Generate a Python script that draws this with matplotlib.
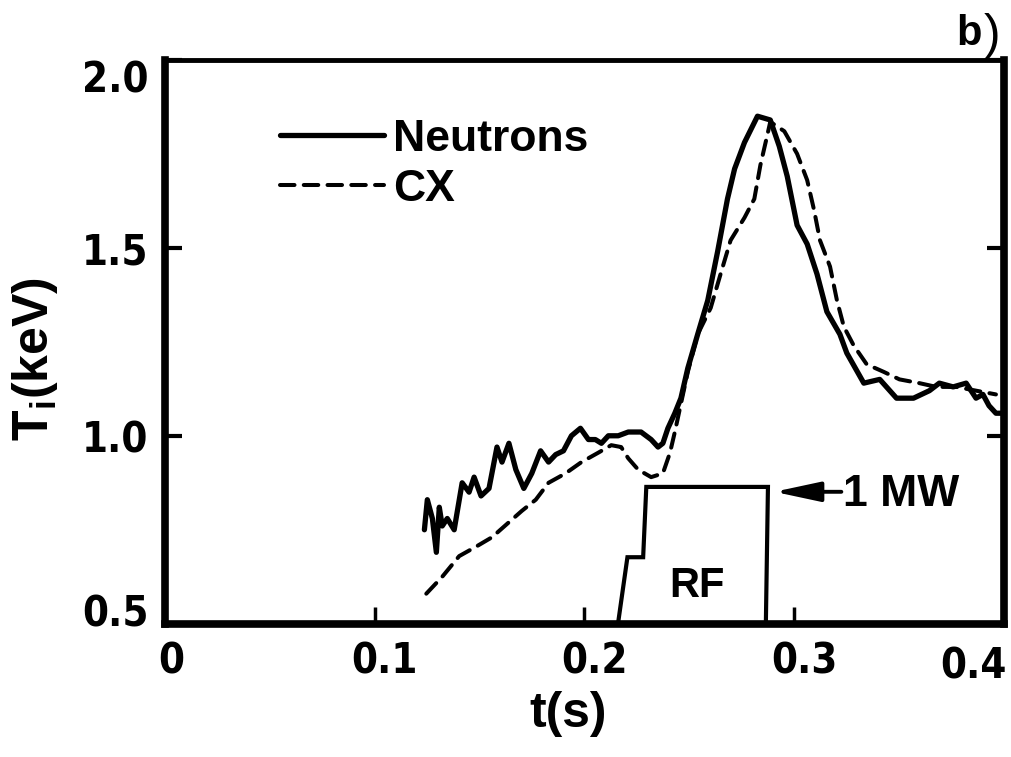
import matplotlib.pyplot as plt
from matplotlib.transforms import ScaledTranslation

plt.rcParams['font.family'] = ['Liberation Sans', 'DejaVu Sans']
plt.rcParams['mathtext.fontset'] = 'custom'
plt.rcParams['mathtext.bf'] = 'Liberation Sans:bold'
plt.rcParams['mathtext.rm'] = 'Liberation Sans'

# ion temperature from neutrons (solid)
neut_t = [0.1237, 0.1251, 0.1275, 0.1294, 0.1308, 0.1322, 0.1346, 0.1379, 0.1417,
          0.1450, 0.1474, 0.1507, 0.1545, 0.1583, 0.1607, 0.1640, 0.1673, 0.1711,
          0.1749, 0.1791, 0.1829, 0.1863, 0.1900, 0.1938, 0.1981, 0.2019, 0.2052,
          0.2081, 0.2114, 0.2161, 0.2209, 0.2270, 0.2318, 0.2351, 0.2374, 0.2398,
          0.2431, 0.2460, 0.2493, 0.2540, 0.2588, 0.2635, 0.2682, 0.2716, 0.2763,
          0.2825, 0.2886, 0.2929, 0.2967, 0.3014, 0.3062, 0.3109, 0.3156, 0.3218,
          0.3251, 0.3332, 0.3408, 0.3488, 0.3569, 0.3645, 0.3692, 0.3758, 0.3820,
          0.3867, 0.3900, 0.3929, 0.3962, 0.4000]
neut_ti = [0.75, 0.83, 0.78, 0.69, 0.81, 0.76, 0.78, 0.75, 0.875,
           0.85, 0.89, 0.84, 0.86, 0.97, 0.93, 0.98, 0.91, 0.86,
           0.90, 0.96, 0.93, 0.95, 0.96, 1.00, 1.02, 0.99, 0.99,
           0.98, 1.00, 1.00, 1.01, 1.01, 0.99, 0.97, 0.98, 1.02,
           1.06, 1.10, 1.18, 1.27, 1.36, 1.49, 1.63, 1.71, 1.78,
           1.85, 1.84, 1.77, 1.69, 1.56, 1.51, 1.43, 1.33, 1.27,
           1.22, 1.14, 1.15, 1.10, 1.10, 1.12, 1.14, 1.13, 1.14,
           1.10, 1.11, 1.08, 1.06, 1.06]

# ion temperature from charge exchange (dashed)
cx_t = [0.1246, 0.1322, 0.1403, 0.1483, 0.1559, 0.1640, 0.1701, 0.1768, 0.1829,
        0.1910, 0.1986, 0.2066, 0.2128, 0.2175, 0.2209, 0.2256, 0.2318, 0.2374,
        0.2408, 0.2431, 0.2493, 0.2540, 0.2602, 0.2649, 0.2697, 0.2763, 0.2810,
        0.2839, 0.2872, 0.2886, 0.2953, 0.3014, 0.3062, 0.3095, 0.3123, 0.3171,
        0.3204, 0.3237, 0.3284, 0.3346, 0.3427, 0.3502, 0.3597, 0.3678, 0.3773,
        0.3867, 0.3962]
cx_ti = [0.58, 0.625, 0.68, 0.705, 0.73, 0.77, 0.80, 0.83, 0.875,
         0.90, 0.93, 0.955, 0.975, 0.97, 0.94, 0.91, 0.89, 0.90,
         0.955, 1.01, 1.17, 1.27, 1.34, 1.43, 1.52, 1.58, 1.63,
         1.72, 1.80, 1.835, 1.81, 1.75, 1.68, 1.60, 1.52, 1.45,
         1.36, 1.29, 1.24, 1.19, 1.17, 1.15, 1.14, 1.13, 1.13,
         1.12, 1.11]

# RF power trace (drawn on the same axes)
rf_t = [0.216, 0.2205, 0.228, 0.2295, 0.2875, 0.2865]
rf_lvl = [0.5, 0.677, 0.677, 0.864, 0.864, 0.5]

xticks = [0, 0.1, 0.2, 0.3, 0.4]
xticklabels = ['0', '0.1', '0.2', '0.3', '0.4']
yticks = [0.5, 1.0, 1.5, 2.0]
yticklabels = ['0.5', '1.0', '1.5', '2.0']

fig = plt.figure(figsize=(10.12, 7.57), dpi=100)
ax = fig.add_axes([0.163, 0.176, 0.829, 0.745])

ax.plot(neut_t, neut_ti, color='black', lw=3.8, solid_joinstyle='round',
        solid_capstyle='round', label='Neutrons')
ax.plot(cx_t, cx_ti, color='black', lw=2.9, dashes=(3.6, 2.3),
        dash_capstyle='round', label='CX')
ax.plot(rf_t, rf_lvl, color='black', lw=3.0, solid_joinstyle='miter')

ax.text(0.2536, 0.60, 'RF', fontsize=30, fontweight='bold', ha='center', va='center')
ax.annotate('', xy=(0.2905, 0.851), xytext=(0.3225, 0.851),
            arrowprops=dict(arrowstyle='-|>,head_length=1.4,head_width=0.3',
                            lw=2.8, color='black', mutation_scale=20,
                            shrinkA=0, shrinkB=0))
ax.text(0.3235, 0.845, '1 MW', fontsize=32, fontweight='bold', ha='left', va='center')

ax.set_xlim(0, 0.4)
ax.set_ylim(0.5, 2.0)

for side in ['left', 'bottom', 'right']:
    ax.spines[side].set_linewidth(5.5)
ax.spines['top'].set_linewidth(3.5)

ax.set_xticks(xticks)
ax.set_xticklabels(xticklabels)
ax.set_yticks(yticks)
ax.set_yticklabels(yticklabels)
ax.tick_params(axis='both', direction='in', length=12, width=2.5, labelsize=30, pad=12)
ax.tick_params(axis='y', right=True, width=3)
for lab in ax.get_xticklabels() + ax.get_yticklabels():
    lab.set_fontfamily(['DejaVu Sans'])
    lab.set_fontstretch('condensed')
    lab.set_fontweight('bold')


def shift(lab, dx, dy):
    # nudge a tick label (in inches) keeping its pad offset
    lab.set_transform(lab.get_transform() + ScaledTranslation(dx, dy, fig.dpi_scale_trans))


# end labels sit inside the frame on the original
shift(ax.get_yticklabels()[0], 0, 0.14)
shift(ax.get_yticklabels()[-1], 0, -0.16)
shift(ax.get_xticklabels()[0], 0.06, 0)
shift(ax.get_xticklabels()[-1], -0.3, -0.05)
for lab in ax.get_xticklabels()[1:-1]:
    shift(lab, 0.1, 0)

ax.set_xlabel('t(s)', fontsize=36, fontweight='bold')
ax.xaxis.set_label_coords(0.48, -0.12)
ax.set_ylabel(r'$\mathbf{T_i}$(keV)', fontsize=36, fontweight='bold')
ax.yaxis.set_label_coords(-0.125, 0.47)

ax.legend(loc='upper left', bbox_to_anchor=(0.137, 0.895), frameon=False,
          prop={'weight': 'bold', 'size': 32}, handlelength=2.35,
          handletextpad=0.2, labelspacing=0.2, borderpad=0, borderaxespad=0)

fig.text(0.945, 0.955, 'b', fontsize=30, fontweight='bold', ha='left', va='center')
fig.text(0.972, 0.952, ')', fontsize=36, fontweight='light', ha='left', va='center')

fig.savefig('out.png', dpi=100)
